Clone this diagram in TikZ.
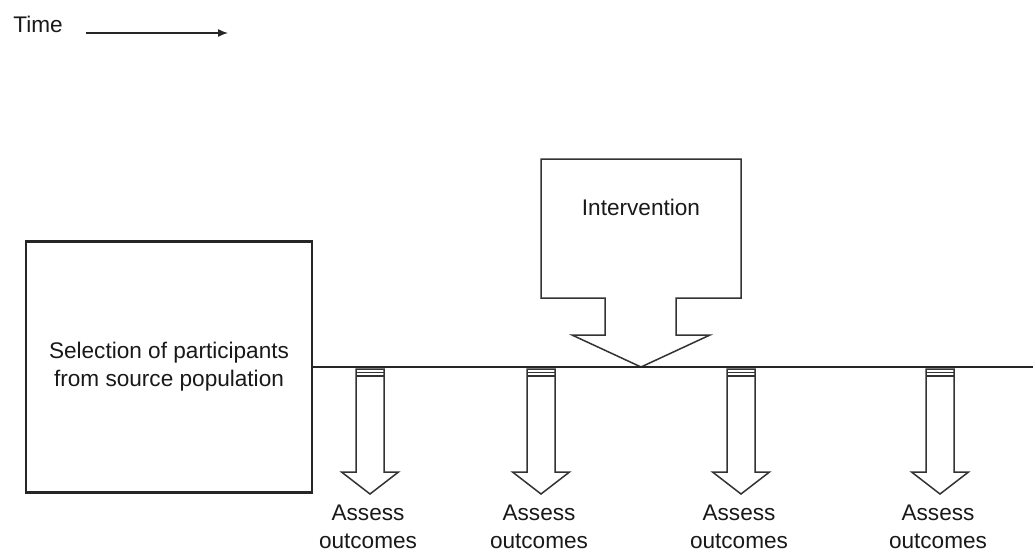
\documentclass[tikz,border=0pt]{standalone}
\usepackage{fontspec}
\setmainfont{Liberation Sans}
\usetikzlibrary{positioning,arrows.meta}
\tikzset{
    label text/.style={% plain text, no frame
        inner sep=0pt, font=\fontsize{11.3}{14}\selectfont, align=center, text=black!90},
    sel box/.style={% the big frame on the left
        label text, draw=black!85, line width=1.1pt, rectangle,
        minimum width=143pt, minimum height=125.5pt},
    block arrow/.style={% outlined arrow shapes
        draw=black!80, line width=0.75pt, fill=white, line join=miter},
    time line/.style={% main axis
        draw=black!85, line width=1pt}}

\begin{document}
\begin{tikzpicture}[>={Latex[length=5pt,width=4pt]}, x=0.5pt, y=-0.5pt]
\useasboundingbox (0,0) rectangle (1033,551);
\node[label text, anchor=base west] at (13,33) (time) {Time};
\coordinate (tend) at (228,33);
\draw[->, line width=0.7pt, black!85] ([xshift=11.5pt]time.base east) -- (tend);
\node[sel box] at (169,367) (sel) {Selection of participants\\from source population};
% intervention callout
\draw[block arrow] (541,159) -- (741,159) -- (741,298) -- (676,298) -- (676,335) -- (710,335)
    -- (641,367) -- (572,335) -- (605,335) -- (605,298) -- (541,298) -- cycle;
\node[label text] at (641,207) (interv) {Intervention};
% outcome arrows
\foreach \x/\n in {370/1,541/2,741/3,940/4}{
    \draw[block arrow] (\x-14,369) -- (\x-14,472) -- (\x-28.5,472) -- (\x,494) -- (\x+28.5,472)
        -- (\x+14,472) -- (\x+14,369) -- cycle;
    \draw[block arrow] (\x-14,372.5) -- (\x+14,372.5) (\x-14,376) -- (\x+14,376);
    \node[label text] at (\x-2,527) (assess\n) {Assess\\outcomes};
}
\coordinate (lineend) at (1033,367);
\draw[time line] (sel.east) -- (sel.east -| lineend);
\end{tikzpicture}
\end{document}
